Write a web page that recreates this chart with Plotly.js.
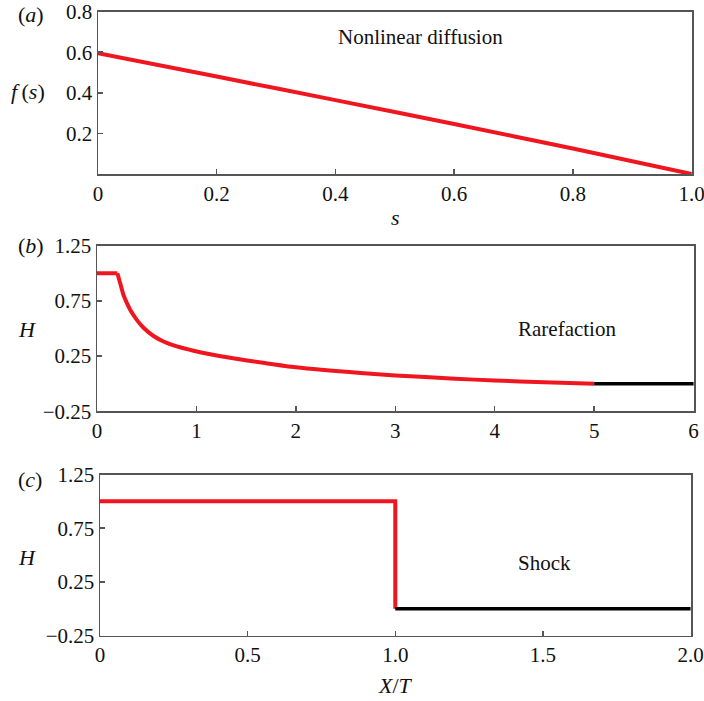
<!DOCTYPE html>
<html>
<head>
<meta charset="utf-8">
<script src="https://cdn.plot.ly/plotly-3.0.1.min.js"></script>
<style>html,body{margin:0;padding:0;background:#fff;}#chart{width:704px;height:701px;}</style>
</head>
<body>
<div id="chart"></div>
<script>
// Panel (a): nonlinear diffusion flux f(s)
const sValues = [0, 0.2, 0.4, 0.6, 0.8, 1.0];
const fValues = [0.595, 0.48, 0.364, 0.246, 0.126, 0.0];

// Panel (b): rarefaction
const rarePlateauX = [0, 0.205];
const rarePlateauH = [1, 1];
const rareCurveX = [0.205, 0.234, 0.267, 0.302, 0.335, 0.402, 0.468, 0.569, 0.669, 0.804, 0.971, 1.139, 1.323, 1.69, 2.0, 2.65, 3.0, 3.6, 4.0, 4.5, 5.0];
const rareCurveH = [1.0, 0.907, 0.801, 0.726, 0.666, 0.575, 0.506, 0.431, 0.381, 0.337, 0.298, 0.266, 0.236, 0.186, 0.148, 0.096, 0.074, 0.045, 0.028, 0.013, 0.0];
const rareTailX = [5, 6];
const rareTailH = [0, 0];

// Panel (c): shock
const shockX = [0, 1.0, 1.0];
const shockH = [1, 1, 0];
const shockTailX = [1.0, 2.0];
const shockTailH = [0, 0];

// Tick labels
const aXTicks = [0, 0.2, 0.4, 0.6, 0.8, 1.0];
const aXLabels = ['0', '0.2', '0.4', '0.6', '0.8', '1.0'];
const aYTicks = [0.2, 0.4, 0.6, 0.8];
const aYLabels = ['0.2', '0.4', '0.6', '0.8'];
const bXTicks = [0, 1, 2, 3, 4, 5, 6];
const bXLabels = ['0', '1', '2', '3', '4', '5', '6'];
const hTicks = [-0.25, 0.25, 0.75, 1.25];
const hLabels = ['\u22120.25', '0.25', '0.75', '1.25'];
const cXTicks = [0, 0.5, 1.0, 1.5, 2.0];
const cXLabels = ['0', '0.5', '1.0', '1.5', '2.0'];

const RED = '#f01620';
const W = 704, Hpx = 701;
const FONT = 'Liberation Serif';

const traces = [
  {x: sValues, y: fValues, xaxis: 'x', yaxis: 'y', mode: 'lines', line: {color: RED, width: 4, shape: 'spline', smoothing: 0.5}},
  {x: rarePlateauX, y: rarePlateauH, xaxis: 'x2', yaxis: 'y2', mode: 'lines', line: {color: RED, width: 4}},
  {x: rareCurveX, y: rareCurveH, xaxis: 'x2', yaxis: 'y2', mode: 'lines', line: {color: RED, width: 4, shape: 'spline', smoothing: 0.6}},
  {x: rareTailX, y: rareTailH, xaxis: 'x2', yaxis: 'y2', mode: 'lines', line: {color: '#000', width: 3.5}},
  {x: shockX, y: shockH, xaxis: 'x3', yaxis: 'y3', mode: 'lines', line: {color: RED, width: 4}},
  {x: shockTailX, y: shockTailH, xaxis: 'x3', yaxis: 'y3', mode: 'lines', line: {color: '#000', width: 3.5}}
];

function xd(a, b) { return [a / W, b / W]; }
function yd(top, bottom) { return [1 - bottom / Hpx, 1 - top / Hpx]; }

const axisCommon = {
  showline: true, mirror: true, linecolor: '#555', linewidth: 1.5,
  ticks: 'inside', ticklen: 5, tickwidth: 1.5, tickcolor: '#555',
  showgrid: false, zeroline: false, tickmode: 'array', ticklabeloverflow: 'allow',
  tickfont: {family: FONT, size: 21, color: '#111'}, fixedrange: true
};

function ann(text, px, py, size) {
  return {text: text, x: px / W, y: 1 - py / Hpx, xref: 'paper', yref: 'paper',
    xanchor: 'center', yanchor: 'middle', showarrow: false,
    font: {family: FONT, size: size, color: '#111'}};
}

const layout = {
  width: W, height: Hpx,
  margin: {l: 0, r: 0, t: 0, b: 0},
  paper_bgcolor: '#fff', plot_bgcolor: '#fff',
  showlegend: false,
  font: {family: FONT, color: '#111'},
  xaxis: Object.assign({}, axisCommon, {domain: xd(98, 692), range: [0, 1.0008], anchor: 'y', tickvals: aXTicks, ticktext: aXLabels}),
  yaxis: Object.assign({}, axisCommon, {domain: yd(11.5, 174), range: [0, 0.8006], anchor: 'x', tickvals: aYTicks, ticktext: aYLabels}),
  xaxis2: Object.assign({}, axisCommon, {domain: xd(97, 694), range: [0, 6.004], anchor: 'y2', tickvals: bXTicks, ticktext: bXLabels}),
  yaxis2: Object.assign({}, axisCommon, {domain: yd(245.5, 411.3), range: [-0.2505, 1.2505], anchor: 'x2', tickvals: hTicks, ticktext: hLabels}),
  xaxis3: Object.assign({}, axisCommon, {domain: xd(100, 691), range: [0, 2.0015], anchor: 'y3', tickvals: cXTicks, ticktext: cXLabels}),
  yaxis3: Object.assign({}, axisCommon, {domain: yd(474.5, 635.5), range: [-0.2505, 1.2505], anchor: 'x3', tickvals: hTicks, ticktext: hLabels}),
  annotations: [
    ann('(<i>a</i>)', 31, 15, 22),
    ann('(<i>b</i>)', 31, 245, 22),
    ann('(<i>c</i>)', 30, 479, 22),
    ann('<i>f</i>\u2009(<i>s</i>)', 28, 92, 22),
    ann('<i>H</i>', 27, 329, 22),
    ann('<i>H</i>', 27, 557, 22),
    ann('<i>s</i>', 395, 217, 22),
    ann('<i>X</i>/<i>T</i>', 395, 685, 22),
    ann('Nonlinear diffusion', 420, 37, 21),
    ann('Rarefaction', 567, 329, 21),
    ann('Shock', 544, 563, 21)
  ]
};

Plotly.newPlot('chart', traces, layout, {displayModeBar: false, staticPlot: true});
</script>
</body>
</html>
